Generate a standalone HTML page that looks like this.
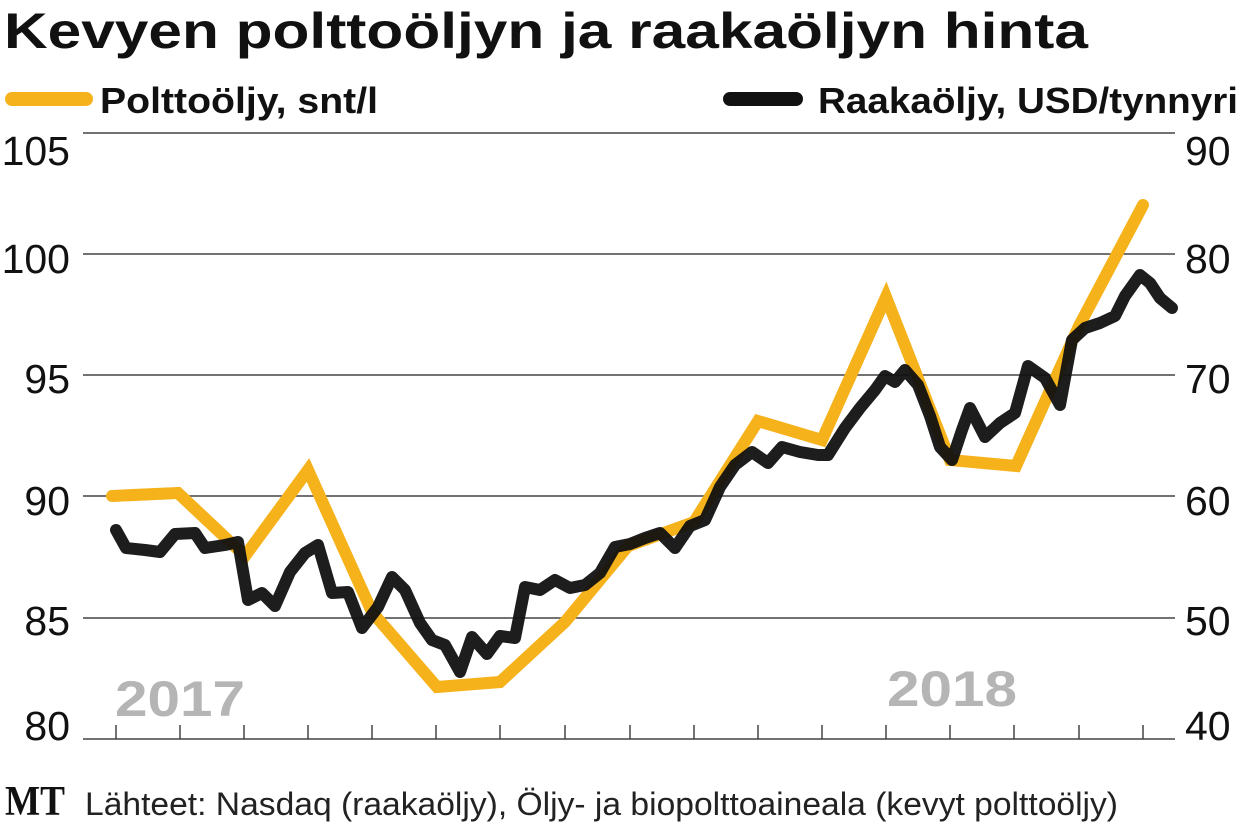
<!DOCTYPE html>
<html><head><meta charset="utf-8"><style>
html,body{margin:0;padding:0;background:#fff;}
svg{display:block;}
</style></head><body>
<svg width="1240" height="825" viewBox="0 0 1240 825" xmlns="http://www.w3.org/2000/svg">
<text x="4" y="48" font-family="'Liberation Sans Narrow','Liberation Sans',sans-serif" font-weight="bold" font-size="50" fill="#111" textLength="1084" lengthAdjust="spacingAndGlyphs">Kevyen polttoöljyn ja raakaöljyn hinta</text>
<line x1="12" y1="99" x2="86" y2="99" stroke="#f6b21b" stroke-width="14" stroke-linecap="round"/>
<text x="100" y="113" font-family="'Liberation Sans Narrow','Liberation Sans',sans-serif" font-weight="bold" font-size="36" fill="#111" textLength="278" lengthAdjust="spacingAndGlyphs">Polttoöljy, snt/l</text>
<line x1="730" y1="99" x2="796" y2="99" stroke="#111" stroke-width="14" stroke-linecap="round"/>
<text x="818" y="113" font-family="'Liberation Sans Narrow','Liberation Sans',sans-serif" font-weight="bold" font-size="36" fill="#111" textLength="420" lengthAdjust="spacingAndGlyphs">Raakaöljy, USD/tynnyri</text>
<g stroke="#444" stroke-width="1.5">
<line x1="83" y1="133" x2="1175" y2="133"/>
<line x1="83" y1="254" x2="1175" y2="254"/>
<line x1="83" y1="375" x2="1175" y2="375"/>
<line x1="83" y1="496" x2="1175" y2="496"/>
<line x1="83" y1="618" x2="1175" y2="618"/>
<line x1="83" y1="739" x2="1175" y2="739"/>
</g>
<g stroke="#444" stroke-width="1.5">
<line x1="116" y1="725" x2="116" y2="739"/><line x1="180" y1="725" x2="180" y2="739"/><line x1="244" y1="725" x2="244" y2="739"/><line x1="308" y1="725" x2="308" y2="739"/><line x1="372" y1="725" x2="372" y2="739"/><line x1="436" y1="725" x2="436" y2="739"/><line x1="500" y1="725" x2="500" y2="739"/><line x1="565" y1="725" x2="565" y2="739"/><line x1="630" y1="725" x2="630" y2="739"/><line x1="694" y1="725" x2="694" y2="739"/><line x1="758" y1="725" x2="758" y2="739"/><line x1="822" y1="725" x2="822" y2="739"/><line x1="886" y1="725" x2="886" y2="739"/><line x1="950" y1="725" x2="950" y2="739"/><line x1="1014" y1="725" x2="1014" y2="739"/><line x1="1079" y1="725" x2="1079" y2="739"/><line x1="1143" y1="725" x2="1143" y2="739"/>
</g>
<g font-family="'Liberation Sans Narrow','Liberation Sans',sans-serif" font-size="41" fill="#111">
<text x="70" y="165" text-anchor="end">105</text>
<text x="70" y="273" text-anchor="end">100</text>
<text x="70" y="393" text-anchor="end">95</text>
<text x="70" y="515" text-anchor="end">90</text>
<text x="70" y="635" text-anchor="end">85</text>
<text x="70" y="740" text-anchor="end">80</text>
<text x="1185" y="165">90</text>
<text x="1185" y="273">80</text>
<text x="1185" y="393">70</text>
<text x="1185" y="515">60</text>
<text x="1185" y="635">50</text>
<text x="1185" y="740">40</text>
</g>
<g font-family="'Liberation Sans',sans-serif" font-weight="bold" font-size="50" fill="#b5b5b5">
<text x="115" y="716" textLength="130" lengthAdjust="spacingAndGlyphs">2017</text>
<text x="887" y="706" textLength="130" lengthAdjust="spacingAndGlyphs">2018</text>
</g>
<polyline fill="none" stroke="#f6b21b" stroke-width="12" stroke-linejoin="miter" stroke-linecap="round" points="112,496 178,493 245,556 308,470 372,612 437,687 500,682 565,622 628,546 694,522 758,421 822,440 886,297 950,460 1016,466 1079,326 1143,205"/>
<polyline fill="none" stroke="#111" stroke-width="12" stroke-linejoin="round" stroke-linecap="round" opacity="0.95" points="116,530 126,548 145,550 160,552 175,534 195,533 205,548 225,545 238,542 248,600 262,593 275,606 290,572 305,553 318,545 332,593 348,592 362,628 378,607 392,577 405,590 420,623 432,640 445,645 460,672 472,637 487,654 500,636 515,638 525,587 540,590 555,580 570,588 585,585 600,573 615,547 630,544 645,538 660,533 675,548 690,526 705,520 720,487 735,465 752,452 768,463 782,447 800,452 818,455 828,455 845,428 860,408 875,390 885,376 895,382 905,370 918,385 930,416 940,447 952,460 962,430 970,408 985,437 1000,423 1015,413 1028,366 1045,378 1060,405 1072,340 1085,328 1100,323 1115,316 1125,296 1140,275 1150,283 1160,298 1172,308"/>
<text x="5" y="815" font-family="'Liberation Serif',serif" font-weight="bold" font-size="42" fill="#111" textLength="60" lengthAdjust="spacingAndGlyphs">MT</text>
<text x="85" y="815" font-family="'Liberation Sans Narrow','Liberation Sans',sans-serif" font-size="32" fill="#222" textLength="1033" lengthAdjust="spacingAndGlyphs">Lähteet: Nasdaq (raakaöljy), Öljy- ja biopolttoaineala (kevyt polttoöljy)</text>
</svg>
</body></html>
